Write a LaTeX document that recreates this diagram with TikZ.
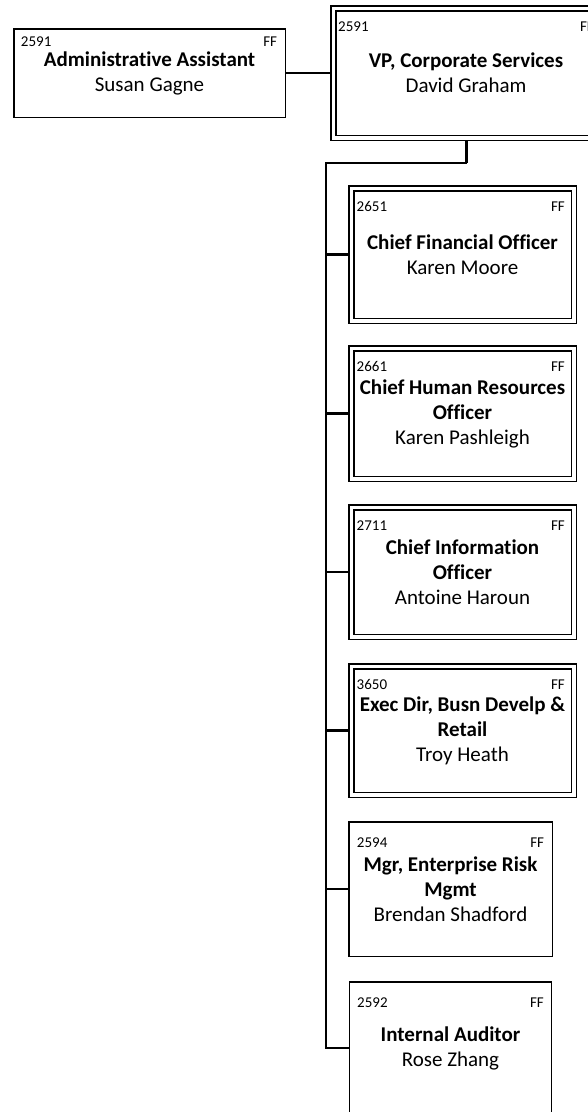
\documentclass[tikz,border=0pt]{standalone}
\usepackage{fontspec}
\setmainfont{Carlito}[Ligatures=NoCommon]
\usetikzlibrary{calc,backgrounds}
\begin{document}
\begin{tikzpicture}[x=1pt,y=-1pt,
  box/.style={draw=black, line width=1.5pt, fill=white, inner sep=0pt, outer sep=0pt, align=center, font=\fontsize{21}{25}\selectfont},
  dbox/.style={box, double=white, double distance=3.5pt},
  num/.style={font=\fontsize{15}{18}\selectfont, inner sep=0pt, anchor=west},
  ff/.style={font=\fontsize{15}{18}\selectfont, inner sep=0pt, anchor=east},
  link/.style={draw=black, line width=2.2pt},
  stubline/.style={draw=black, line width=3pt}]
\useasboundingbox (0,0) rectangle (588,1112);
\clip (0,0) rectangle (588,1112);

% top level
\node[box, minimum width=271.5pt, minimum height=88.5pt] (admin) at (149.5,73) {\textbf{Administrative Assistant}\\Susan Gagne};
\node[num] (admin-n) at ($(admin.north west)+(7,13.25)$) {2591};
\node[ff] (admin-f) at ($(admin.north east)+(-8,13.25)$) {FF};

\node[dbox, minimum width=265.5pt, minimum height=129.5pt] (vp) at (466,73) {\textbf{VP, Corporate Services}\\David Graham};
\node[num] (vp-n) at ($(vp.north west)+(4.75,18.75)$) {2591};
\node[ff] (vp-f) at ($(vp.north east)+(-4.75,18.75)$) {FF};

% reports
\node[dbox, minimum width=222.5pt, minimum height=132.5pt] (cfo) at (462.5,254.5) {\textbf{Chief Financial Officer}\\Karen Moore};
\node[num] (cfo-n) at ($(cfo.north west)+(5.25,18.25)$) {2651};
\node[ff] (cfo-f) at ($(cfo.north east)+(-8.75,18.25)$) {FF};

\node[dbox, minimum width=222.5pt, minimum height=130.5pt] (chro) at (462.5,413.5) {\textbf{Chief Human Resources}\\\textbf{Officer}\\Karen Pashleigh};
\node[num] (chro-n) at ($(chro.north west)+(5.25,18.25)$) {2661};
\node[ff] (chro-f) at ($(chro.north east)+(-8.75,18.25)$) {FF};

\node[dbox, minimum width=222.5pt, minimum height=129.5pt] (cio) at (462.5,572) {\textbf{Chief Information}\\\textbf{Officer}\\Antoine Haroun};
\node[num] (cio-n) at ($(cio.north west)+(5.25,18.25)$) {2711};
\node[ff] (cio-f) at ($(cio.north east)+(-8.75,18.25)$) {FF};

\node[dbox, minimum width=222.5pt, minimum height=128.5pt] (exec) at (462.5,730.5) {\textbf{Exec Dir, Busn Develp \&}\\\textbf{Retail}\\Troy Heath};
\node[num] (exec-n) at ($(exec.north west)+(5.25,18.25)$) {3650};
\node[ff] (exec-f) at ($(exec.north east)+(-8.75,18.25)$) {FF};

\node[box, minimum width=203.5pt, minimum height=134.5pt] (erm) at (450.5,889) {\textbf{Mgr, Enterprise Risk}\\\textbf{Mgmt}\\Brendan Shadford};
\node[num] (erm-n) at ($(erm.north west)+(8,20.75)$) {2594};
\node[ff] (erm-f) at ($(erm.north east)+(-8,20.75)$) {FF};

\node[box, minimum width=202pt, minimum height=132.5pt] (ia) at (450.5,1048) {\textbf{Internal Auditor}\\Rose Zhang};
\node[num] (ia-n) at ($(ia.north west)+(7.5,20.75)$) {2592};
\node[ff] (ia-f) at ($(ia.north east)+(-7.5,20.75)$) {FF};

\coordinate (j) at (326,163);

\begin{pgfonlayer}{background}
  \draw[link] (admin.east) -- (vp.west);
  \draw[link] (vp.south) -- (vp.south |- j) -- (j) -- (j |- ia.west) -- (ia.west);
  \draw[stubline] (vp.south) -- (vp.south |- j);
  \draw[link] (j) |- (cfo.west);
  \draw[link] (j) |- (chro.west);
  \draw[link] (j) |- (cio.west);
  \draw[link] (j) |- (exec.west);
  \draw[link] (j) |- (erm.west);
\end{pgfonlayer}
\end{tikzpicture}
\end{document}
